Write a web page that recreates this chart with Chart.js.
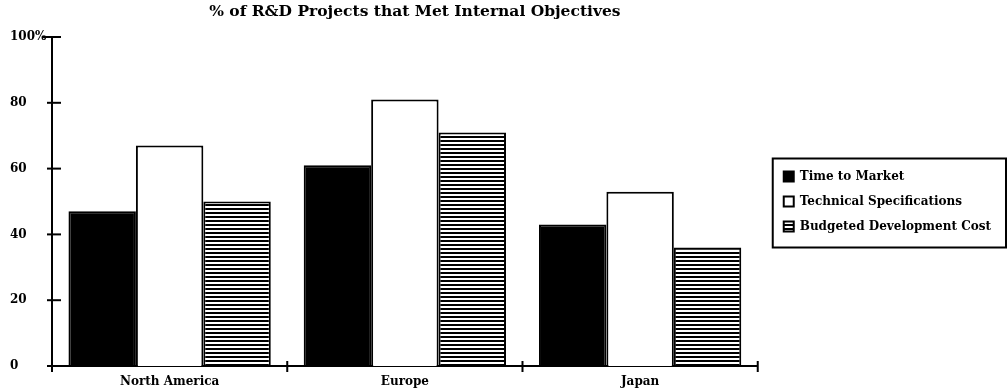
<!DOCTYPE html>
<html>
<head>
<meta charset="utf-8">
<script src="https://cdn.jsdelivr.net/npm/chart.js@4/dist/chart.umd.min.js"></script>
<style>
  html, body { margin: 0; padding: 0; background: #fff; }
  #wrap { width: 1008px; height: 388px; }
</style>
</head>
<body>
<div id="wrap"><canvas id="c" width="1008" height="388"></canvas></div>
<script>
// Share of R&D projects meeting each internal objective, by region (%)
const regions = ['North America', 'Europe', 'Japan'];
const timeToMarket = [47, 61, 43];
const technicalSpecs = [67, 81, 53];
const budgetedCost = [50, 71, 36];
const seriesNames = ['Time to Market', 'Technical Specifications', 'Budgeted Development Cost'];
const yTicks = [0, 20, 40, 60, 80, 100];
const chartTitle = '% of R&D Projects that Met Internal Objectives';

const SERIF = '"DejaVu Serif", "Liberation Serif", serif';

// horizontal black/white stripes for the budget series
function stripePattern() {
  const tile = document.createElement('canvas');
  tile.width = 4; tile.height = 4;
  const g = tile.getContext('2d');
  g.fillStyle = '#fff'; g.fillRect(0, 0, 4, 4);
  g.fillStyle = '#000'; g.fillRect(0, 0, 4, 2);
  return g.createPattern(tile, 'repeat');
}

const LEGEND_PAD = 13;

// boxed legend, tick marks that cross the axes, small layout nudges
const axisDecor = {
  id: 'axisDecor',
  afterLayout(chart) {
    const lg = chart.legend;
    if (lg) { lg.left += 13; lg.right += 13; }
    const tb = chart.titleBlock;
    if (tb) { tb.left += 10; tb.right += 10; }
  },
  afterDraw(chart) {
    const { ctx, chartArea: a, scales: { x, y } } = chart;
    ctx.save();
    ctx.strokeStyle = '#000';
    ctx.lineWidth = 2;
    y.ticks.forEach(t => {
      const py = y.getPixelForValue(t.value);
      ctx.beginPath();
      ctx.moveTo(a.left - (t.value === 100 ? 9 : 5), py);
      ctx.lineTo(a.left + 9, py);
      ctx.stroke();
    });
    for (let i = 0; i <= regions.length; i++) {
      const px = x.getPixelForValue(i - 0.5);
      ctx.beginPath();
      ctx.moveTo(px, a.bottom - (i === 0 ? 0 : 5));
      ctx.lineTo(px, a.bottom + 6);
      ctx.stroke();
    }
    const lg = chart.legend;
    if (lg && lg.columnSizes && lg.columnSizes.length) {
      const colH = lg.columnSizes[0].height;
      const firstTop = (lg.top + LEGEND_PAD + lg.bottom - colH) / 2;
      const fx = lg.left + LEGEND_PAD - 11;
      const fy = firstTop - 12;
      const fb = firstTop + colH + 2;
      ctx.strokeRect(fx, fy, chart.width - 2 - fx, fb - fy);
    }
    ctx.restore();
  }
};

const stripes = stripePattern();

new Chart(document.getElementById('c'), {
  type: 'bar',
  data: {
    labels: regions,
    datasets: [
      { label: seriesNames[0], data: timeToMarket, backgroundColor: '#000', borderColor: '#000', borderWidth: 2 },
      { label: seriesNames[1], data: technicalSpecs, backgroundColor: '#fff', borderColor: '#000', borderWidth: 2 },
      { label: seriesNames[2], data: budgetedCost, backgroundColor: stripes, borderColor: '#000', borderWidth: 2 }
    ]
  },
  options: {
    responsive: false,
    animation: false,
    devicePixelRatio: 1,
    layout: { padding: { left: 10, right: 20, top: 0, bottom: 0 } },
    datasets: { bar: { categoryPercentage: 0.86, barPercentage: 1.0 } },
    plugins: {
      title: {
        display: true,
        text: chartTitle,
        fullSize: false,
        color: '#000',
        font: { family: SERIF, size: 15.5, weight: 'bold' },
        padding: { top: 3, bottom: 15.4 }
      },
      legend: {
        position: 'right',
        fullSize: false,
        align: 'center',
        labels: {
          color: '#000',
          boxWidth: 10,
          boxHeight: 10,
          padding: LEGEND_PAD,
          font: { family: SERIF, size: 12, weight: 'bold' }
        }
      },
      tooltip: { enabled: false }
    },
    scales: {
      x: {
        offset: true,
        grid: { display: false, drawTicks: false },
        border: { display: true, color: '#000', width: 2 },
        ticks: { color: '#000', padding: 9, font: { family: SERIF, size: 12, weight: 'bold' } },
        afterFit(s) { s.height = 22; }
      },
      y: {
        min: 0,
        max: 100,
        grid: { display: false, drawTicks: false },
        border: { display: true, color: '#000', width: 2 },
        afterBuildTicks(s) { s.ticks = yTicks.map(v => ({ value: v })); },
        ticks: {
          color: '#000',
          crossAlign: 'far',
          padding: 4,
          font: { family: SERIF, size: 12, weight: 'bold' },
          callback: v => (v === 100 ? '100%' : String(v))
        },
        afterFit(s) { s.width = 42; }
      }
    }
  },
  plugins: [axisDecor]
});
</script>
</body>
</html>
